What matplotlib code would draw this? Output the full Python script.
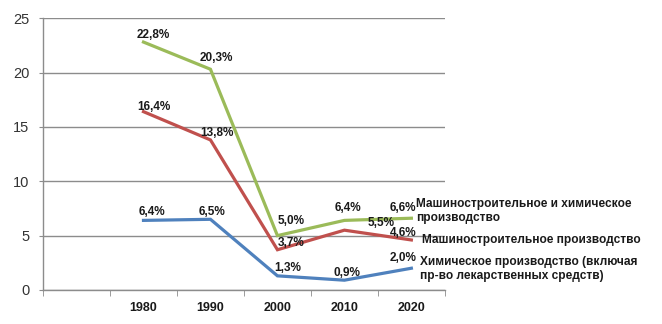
"""
Line chart: share of machine-building and chemical production, 1980-2020
"""
import matplotlib
matplotlib.use('Agg')
import matplotlib.pyplot as plt

# data (first category is an empty slot, as in the original chart)
categories = ['', '1980', '1990', '2000', '2010', '2020']
mach_chem = [None, 22.8, 20.3, 5.0, 6.4, 6.6]
mach = [None, 16.4, 13.8, 3.7, 5.5, 4.6]
chem = [None, 6.4, 6.5, 1.3, 0.9, 2.0]
series_names = ['Машиностроительное и химическое\nпроизводство',
                'Машиностроительное производство',
                'Химическое производство (включая\nпр-во лекарственных средств)']

# styling
colors = ['#9BBB59', '#C0504D', '#4F81BD']
# label offsets in pixels (dx, dy) for each point, per series
label_offsets = [
    [None, (10, 7), (6, 11), (14, 15), (4, 12), (-9, 10)],
    [None, (10, 5), (6, 7), (14, 7), (37, 7), (-8, 7)],
    [None, (8, 8), (2, 7), (10, 8), (3, 7), (-8, 10)],
]
name_offsets = [(5, 7), (11, 0), (9, -1)]

plt.rcParams['font.family'] = ['Liberation Sans', 'DejaVu Sans']

fig = plt.figure(figsize=(6.62, 3.24), dpi=100)
ax = fig.add_axes([0.065, 0.105, 0.607, 0.839])

x = list(range(len(categories)))
all_series = [mach_chem, mach, chem]

for vals, col, offs, name, noff in zip(all_series, colors, label_offsets, series_names, name_offsets):
    xs = [i for i, v in zip(x, vals) if v is not None]
    ys = [v for v in vals if v is not None]
    ax.plot(xs, ys, color=col, linewidth=2.3, solid_joinstyle='miter', zorder=3)
    for xi, yi, off in zip(xs, ys, [o for o in offs if o is not None]):
        ax.annotate(f"{yi:.1f}%".replace('.', ','), (xi, yi), xytext=off,
                    textcoords='offset pixels', ha='center', va='center',
                    fontsize=8.5, fontweight='bold', color='#1a1a1a', zorder=4)
    ax.annotate(name, (xs[-1], ys[-1]), xytext=noff, textcoords='offset pixels',
                ha='left', va='center', fontsize=8.6, fontweight='bold',
                color='#1a1a1a', annotation_clip=False, linespacing=1.25)

ax.set_xlim(-0.5, len(categories) - 0.5)
ax.set_ylim(0, 25)
ax.set_yticks([0, 5, 10, 15, 20, 25])
ax.yaxis.grid(True, color='#8c8c8c', linewidth=1)
ax.set_axisbelow(True)

ax.set_xticks(x)
ax.set_xticklabels(categories, fontsize=9, fontweight='bold', color='#1a1a1a')
ax.set_xticks([i - 0.5 for i in range(len(categories) + 1)], minor=True)
ax.tick_params(axis='x', which='major', length=0, pad=9)
ax.tick_params(axis='x', which='minor', length=4, color='#8c8c8c', direction='out')
ax.tick_params(axis='y', length=3, color='#8c8c8c', labelsize=10.5, labelcolor='#333333', pad=7)

for side in ['top', 'right']:
    ax.spines[side].set_visible(False)
for side in ['left', 'bottom']:
    ax.spines[side].set_color('#8c8c8c')
    ax.spines[side].set_linewidth(1)

fig.savefig('out.png', dpi=100)
